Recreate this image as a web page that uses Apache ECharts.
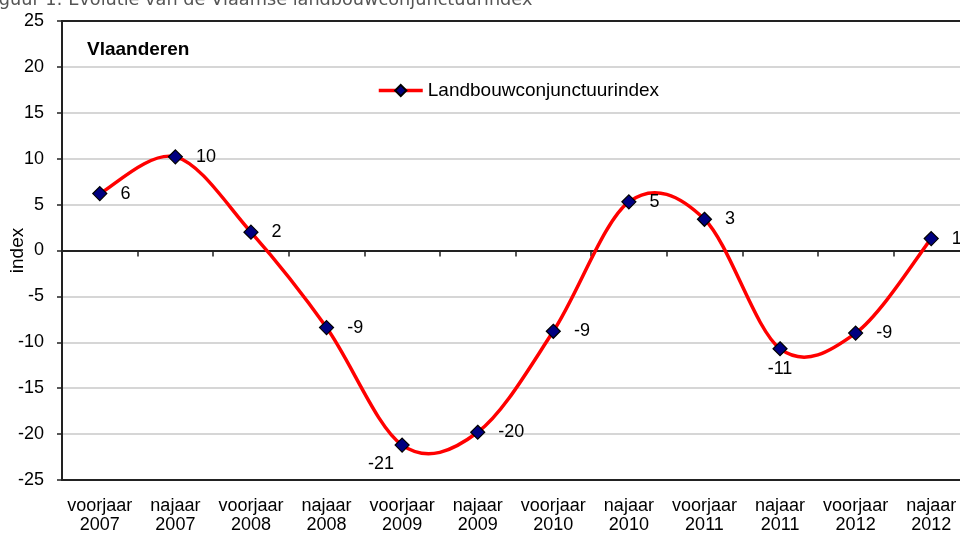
<!DOCTYPE html>
<html>
<head>
<meta charset="utf-8">
<script src="https://cdn.jsdelivr.net/npm/echarts@6/dist/echarts.min.js"></script>
<style>
html, body { margin: 0; padding: 0; background: #fff; }
#container { width: 960px; height: 533px; }
</style>
</head>
<body>
<div id="container"></div>
<script>
// gegevens
var periodes = ['voorjaar\n2007', 'najaar\n2007', 'voorjaar\n2008', 'najaar\n2008',
  'voorjaar\n2009', 'najaar\n2009', 'voorjaar\n2010', 'najaar\n2010',
  'voorjaar\n2011', 'najaar\n2011', 'voorjaar\n2012', 'najaar\n2012'];
var indexWaarden = [6.2, 10.2, 2.0, -8.4, -21.2, -19.8, -8.8, 5.3, 3.4, -10.7, -9.0, 1.3];
var labelTeksten = ['6', '10', '2', '-9', '-21', '-20', '-9', '5', '3', '-11', '-9', '1'];

var font = '"Liberation Sans", Arial, sans-serif';

// labels die niet rechts van het punt staan
var labelAfwijking = {
  4: { position: 'bottom', distance: 2, offset: [-21, 0] },
  9: { position: 'bottom', distance: 4, offset: [0, 0] }
};

var data_in = [];
for (var i = 0; i < indexWaarden.length; i += 1) {
  var v = { value: indexWaarden[i] };
  if (labelAfwijking[i]) v.label = labelAfwijking[i];
  data_in.push(v);
}

// Excel-achtige vloeiende lijn (catmull-rom) via de assen van echarts
function tekenSegment(params, api) {
  var i = params.dataIndex;
  var n = indexWaarden.length;
  if (i >= n - 1) return null;
  function pt(k) {
    k = Math.max(0, Math.min(n - 1, k));
    return api.coord([k, indexWaarden[k]]);
  }
  var p0 = pt(i - 1), p1 = pt(i), p2 = pt(i + 1), p3 = pt(i + 2);
  return {
    type: 'bezierCurve',
    shape: {
      x1: p1[0], y1: p1[1],
      x2: p2[0], y2: p2[1],
      cpx1: p1[0] + (p2[0] - p0[0]) / 6, cpy1: p1[1] + (p2[1] - p0[1]) / 6,
      cpx2: p2[0] - (p3[0] - p1[0]) / 6, cpy2: p2[1] - (p3[1] - p1[1]) / 6
    },
    style: { stroke: '#ff0000', lineWidth: 3.5, fill: null, lineCap: 'round' }
  };
}

var dom = document.getElementById('container');
var myChart = echarts.init(dom);

myChart.setOption({
  animation: false,
  title: [{
    text: 'Figuur 1: Evolutie van de Vlaamse landbouwconjunctuurindex',
    left: -20,
    top: -14,
    textStyle: { color: '#555', fontSize: 17.7, fontWeight: 'normal', fontFamily: '"DejaVu Sans", Verdana, sans-serif' }
  }, {
    text: 'Vlaanderen',
    left: 87,
    top: 40,
    padding: 0,
    textStyle: { color: '#000', fontSize: 19, fontWeight: 'bold', fontFamily: font }
  }],
  legend: {
    left: 377,
    top: 81,
    padding: 0,
    itemWidth: 44,
    itemHeight: 14,
    itemGap: 4,
    textStyle: { fontSize: 19, color: '#000', fontFamily: font },
    data: [{
      name: 'Landbouwconjunctuurindex',
      lineStyle: { color: '#ff0000', width: 3.5, opacity: 1 }
    }]
  },
  grid: { left: 62, right: -9, top: 21, bottom: 53, containLabel: false, outerBoundsMode: 'none' },
  xAxis: [{
    type: 'category',
    data: periodes,
    position: 'bottom',
    boundaryGap: true,
    axisLine: { onZero: false, lineStyle: { color: '#222', width: 2 } },
    axisTick: { show: false },
    axisLabel: { color: '#000', fontSize: 18, fontFamily: font, lineHeight: 19, margin: 17, interval: 0 }
  }, {
    type: 'category',
    data: periodes,
    position: 'bottom',
    boundaryGap: true,
    axisLine: { onZero: true, lineStyle: { color: '#222', width: 2 } },
    axisTick: { show: true, length: 6, lineStyle: { color: '#222', width: 1.5 } },
    axisLabel: { show: false }
  }, {
    type: 'category',
    data: periodes,
    position: 'top',
    axisLine: { onZero: false, lineStyle: { color: '#222', width: 2 } },
    axisTick: { show: false },
    axisLabel: { show: false }
  }],
  yAxis: {
    type: 'value',
    min: -25,
    max: 25,
    interval: 5,
    name: 'index',
    nameLocation: 'middle',
    nameGap: 35,
    nameMoveOverlap: false,
    nameTextStyle: { color: '#000', fontSize: 19, fontFamily: font },
    axisLine: { show: true, lineStyle: { color: '#222', width: 2 } },
    axisTick: { show: true, length: 5, lineStyle: { color: '#222', width: 1.5 } },
    axisLabel: { color: '#000', fontSize: 18, fontFamily: font, margin: 18 },
    splitLine: { lineStyle: { color: '#c8c8c8', width: 1.5 } }
  },
  series: [{
    type: 'custom',
    name: 'lijn',
    silent: true,
    renderItem: tekenSegment,
    data: indexWaarden.map(function (w, k) { return [k, w]; }),
    encode: { x: 0, y: 1 },
    z: 3
  }, {
    name: 'Landbouwconjunctuurindex',
    type: 'line',
    data: data_in,
    symbol: 'diamond',
    symbolSize: 14,
    lineStyle: { color: '#ff0000', width: 3.5, opacity: 0 },
    itemStyle: { color: '#000080', borderColor: '#000', borderWidth: 1.2 },
    label: {
      show: true,
      position: 'right',
      distance: 13,
      color: '#000',
      fontSize: 18,
      fontFamily: font,
      formatter: function (p) { return labelTeksten[p.dataIndex]; }
    },
    z: 5
  }]
});
</script>
</body>
</html>
